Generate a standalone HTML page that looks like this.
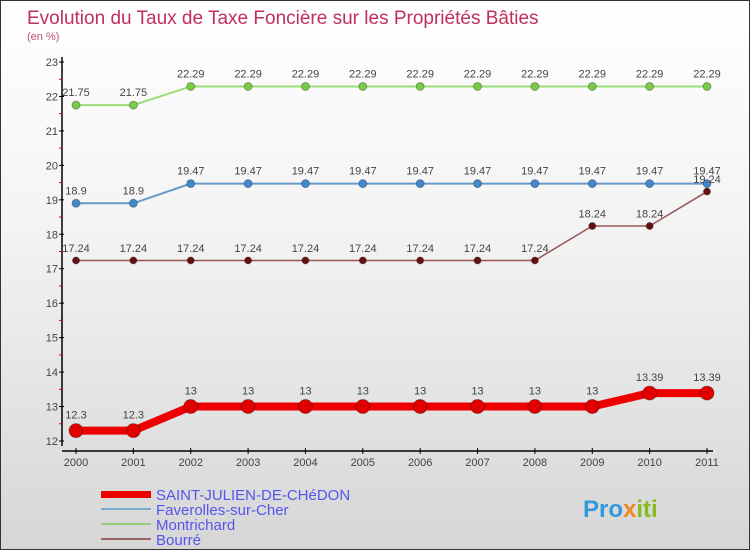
<!DOCTYPE html>
<html><head><meta charset="utf-8"><style>
body{margin:0}
#c{width:750px;height:550px;position:relative;overflow:hidden;box-sizing:border-box;border:1px solid #333;background:linear-gradient(#ffffff,#f4f4f4 40%,#d6d6d6);font-family:"Liberation Sans",sans-serif}
</style></head><body>
<div id="c">
<svg id="s" width="750" height="550" style="position:absolute;left:0;top:0">
<text x="26" y="23" font-size="19" fill="#c0305a">Evolution du Taux de Taxe Foncière sur les Propriétés Bâties</text>
<text x="26" y="39" font-size="11" fill="#c0507a">(en %)</text>
<g id="g"></g>
<g id="legend">
<rect x="100" y="490" width="50" height="7" fill="#e00"/>
<text x="155" y="499" font-size="15" fill="#5555ee">SAINT-JULIEN-DE-CHéDON</text>
<rect x="100" y="507" width="50" height="2" fill="#7aaacc"/>
<text x="155" y="514" font-size="15" fill="#5555ee">Faverolles-sur-Cher</text>
<rect x="100" y="522" width="50" height="2" fill="#99cc77"/>
<text x="155" y="529" font-size="15" fill="#5555ee">Montrichard</text>
<rect x="100" y="537" width="50" height="2" fill="#996666"/>
<text x="155" y="544" font-size="15" fill="#5555ee">Bourré</text>
</g>
<text x="582" y="516" font-size="24" font-weight="bold" fill="#3399dd">Pro<tspan fill="#ee8822">x</tspan><tspan fill="#88bb22">iti</tspan></text>
</svg>
</div>
<script>
const years=[2000,2001,2002,2003,2004,2005,2006,2007,2008,2009,2010,2011];
const yTicks=[12,13,14,15,16,17,18,19,20,21,22,23];
const saint=[12.3,12.3,13,13,13,13,13,13,13,13,13.39,13.39];
const faverolles=[18.9,18.9,19.47,19.47,19.47,19.47,19.47,19.47,19.47,19.47,19.47,19.47];
const montrichard=[21.75,21.75,22.29,22.29,22.29,22.29,22.29,22.29,22.29,22.29,22.29,22.29];
const bourre=[17.24,17.24,17.24,17.24,17.24,17.24,17.24,17.24,17.24,18.24,18.24,19.24];
const NS="http://www.w3.org/2000/svg";
const g=document.getElementById('g');
const X=i=>75+i*(706-75)/11;
const Y=v=>440-(v-12)*(440-61)/11;
function el(t,a,p){const e=document.createElementNS(NS,t);for(const k in a)e.setAttribute(k,a[k]);(p||g).appendChild(e);return e;}
let ax=el('line',{x1:61,y1:56,x2:61,y2:445,stroke:'#000','stroke-width':1.5});


let bx=el('line',{x1:61,y1:450,x2:712,y2:450,stroke:'#000','stroke-width':1.5});


yTicks.forEach(v=>{
 el('line',{x1:58,x2:63,y1:Y(v),y2:Y(v),stroke:'#000'});
 if(v<23)el('line',{x1:58,x2:61,y1:Y(v+0.5),y2:Y(v+0.5),stroke:'#e00'});
 const t=el('text',{x:57,y:Y(v)+4,'font-size':11,fill:'#444','text-anchor':'end'});t.textContent=v;
 
 
});
years.forEach((y,i)=>{
 el('line',{x1:X(i),x2:X(i),y1:447,y2:453,stroke:'#000'});
 const t=el('text',{x:X(i),y:465,'font-size':11,fill:'#444','text-anchor':'middle'});t.textContent=y;
 
 
});
function series(d,name,col,dot,w,r){
 const p=el('polyline',{points:d.map((v,i)=>X(i)+','+Y(v)).join(' '),fill:'none',stroke:col,'stroke-width':w});
 
 
 d.forEach((v,i)=>{
  const c=el('circle',{cx:X(i),cy:Y(v),r:r,fill:dot,stroke:'rgba(0,0,0,0.3)'});
  
  
  const t=el('text',{x:X(i),y:Y(v)-r-5,'font-size':11,fill:'#444','text-anchor':'middle'});t.textContent=v;
  
  
 });
}
series(montrichard,'montrichard','#99dd77','#77cc44',2,4);
series(faverolles,'faverolles','#6699cc','#4488cc',2,4);
series(bourre,'bourre','#995555','#661111',1.5,3.5);
series(saint,'saint-julien','#ee0000','#e00000',8,7);
</script>
</body></html>
